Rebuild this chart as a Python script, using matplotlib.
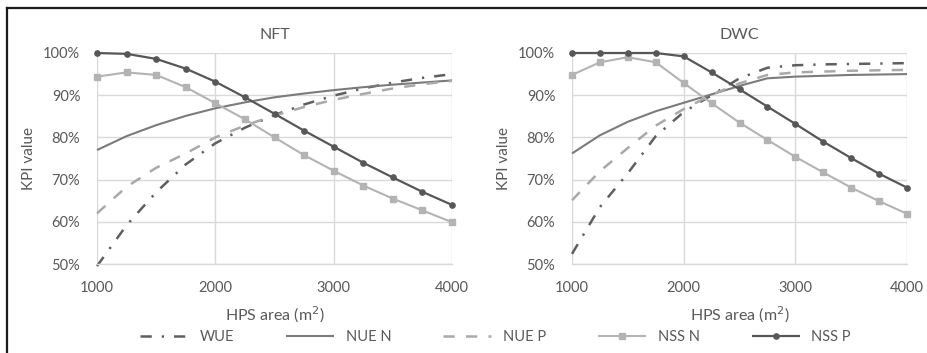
import matplotlib
matplotlib.use("Agg")
import matplotlib.pyplot as plt
from matplotlib.lines import Line2D
from matplotlib.ticker import FuncFormatter

plt.rcParams['font.family'] = ['Lato', 'DejaVu Sans']

hps_area = [1000, 1250, 1500, 1750, 2000, 2250, 2500, 2750, 3000, 3250, 3500, 3750, 4000]

# NFT
nft_wue = [49.5, 59.2, 67.0, 73.6, 78.6, 82.3, 85.3, 87.8, 89.9, 91.6, 93.0, 94.1, 95.0]
nft_nue_n = [77.0, 80.3, 82.9, 85.1, 86.9, 88.3, 89.5, 90.4, 91.2, 91.9, 92.5, 93.0, 93.5]
nft_nue_p = [62.0, 68.3, 72.8, 76.2, 80.0, 82.8, 85.2, 87.2, 88.9, 90.3, 91.6, 92.6, 93.4]
nft_nss_n = [94.4, 95.4, 94.8, 91.9, 88.1, 84.3, 80.0, 75.8, 72.1, 68.6, 65.5, 62.7, 59.9]
nft_nss_p = [100.0, 99.8, 98.6, 96.3, 93.2, 89.5, 85.6, 81.6, 77.8, 74.0, 70.5, 67.1, 64.0]

# DWC
dwc_wue = [52.4, 63.5, 71.5, 80.3, 86.0, 90.0, 94.0, 96.5, 97.1, 97.3, 97.4, 97.5, 97.6]
dwc_nue_n = [76.2, 80.5, 83.7, 86.2, 88.2, 90.2, 92.2, 94.0, 94.4, 94.6, 94.8, 94.9, 95.0]
dwc_nue_p = [65.1, 72.0, 77.5, 82.8, 86.7, 90.1, 92.8, 94.8, 95.4, 95.6, 95.8, 95.9, 96.0]
dwc_nss_n = [94.8, 97.8, 99.0, 97.8, 92.9, 88.1, 83.5, 79.4, 75.4, 71.7, 68.1, 64.9, 61.9]
dwc_nss_p = [100.0, 100.0, 100.0, 100.0, 99.2, 95.4, 91.4, 87.3, 83.2, 79.0, 75.1, 71.4, 68.1]

panel_titles = ["NFT", "DWC"]
series_names = ["WUE", "NUE N", "NUE P", "NSS N", "NSS P"]
x_ticks = [1000, 2000, 3000, 4000]
y_ticks = [50, 60, 70, 80, 90, 100]

TXT = '#595959'
GRID = '#d9d9d9'

styles = {
    "WUE": dict(color='#5f5f5f', lw=1.8, ls=(0, (4.5, 4.0, 0.9, 4.0))),
    "NUE N": dict(color='#7b7b7b', lw=1.5, ls='-'),
    "NUE P": dict(color='#a9a9a9', lw=1.8, ls=(0, (4.5, 4.5))),
    "NSS N": dict(color='#b3b3b3', lw=1.5, ls='-', marker='s', ms=4.5),
    "NSS P": dict(color='#575757', lw=1.6, ls='-', marker='o', ms=3.8),
}

W, H = 927, 353
fig = plt.figure(figsize=(W / 100, H / 100), dpi=100)

rects = [(97, 452), (572, 907)]
top_px, bot_px = 53, 264
data = [
    [nft_wue, nft_nue_n, nft_nue_p, nft_nss_n, nft_nss_p],
    [dwc_wue, dwc_nue_n, dwc_nue_p, dwc_nss_n, dwc_nss_p],
]

handles = []
for i, (l, r) in enumerate(rects):
    ax = fig.add_axes([l / W, 1 - bot_px / H, (r - l) / W, (bot_px - top_px) / H])
    for name, vals in zip(series_names, data[i]):
        st = styles[name]
        h, = ax.plot(hps_area, vals, color=st['color'], lw=st['lw'], linestyle=st['ls'],
                     marker=st.get('marker', None), ms=st.get('ms', 0),
                     markeredgecolor=st['color'], markerfacecolor=st['color'], label=name,
                     clip_on=False, solid_capstyle='butt', dash_capstyle='butt')
        if i == 0:
            handles.append(h)
    ax.set_xlim(1000, 4000)
    ax.set_ylim(50, 100)
    ax.set_xticks(x_ticks)
    ax.set_yticks(y_ticks)
    ax.yaxis.set_major_formatter(FuncFormatter(lambda v, p: f"{int(v)}%"))
    ax.grid(True, color=GRID, lw=1.0)
    ax.set_axisbelow(True)
    for s in ['top', 'right', 'left']:
        ax.spines[s].set_visible(False)
    ax.spines['bottom'].set_color(GRID)
    ax.spines['bottom'].set_linewidth(1.0)
    ax.tick_params(axis='both', length=0, labelsize=10.5, colors=TXT)
    ax.tick_params(axis='y', pad=12)
    ax.tick_params(axis='x', pad=12)
    ax.set_title(panel_titles[i], fontsize=11.5, color=TXT, pad=10)
    ax.set_xlabel("HPS area (m$^2$)", fontsize=11.5, color=TXT, labelpad=7)
    ax.set_ylabel("KPI value", fontsize=11, color=TXT, labelpad=5)

leg = fig.legend(handles=handles, labels=series_names, loc='center', ncol=5,
                 bbox_to_anchor=(0.5345, 1 - 337 / H), frameon=False, fontsize=10.5,
                 handlelength=3.3, handletextpad=0.8, columnspacing=3.55)
for t in leg.get_texts():
    t.set_color(TXT)

# screenshot border lines (left and top)
fig.add_artist(Line2D([7 / W, 7 / W], [0, 1 - 8 / H], transform=fig.transFigure,
                      color='#1a1a1a', lw=1.6))
fig.add_artist(Line2D([7 / W, 1], [1 - 8 / H, 1 - 8 / H], transform=fig.transFigure,
                      color='#1a1a1a', lw=1.6))

fig.savefig("out.png", dpi=100, facecolor='white')
